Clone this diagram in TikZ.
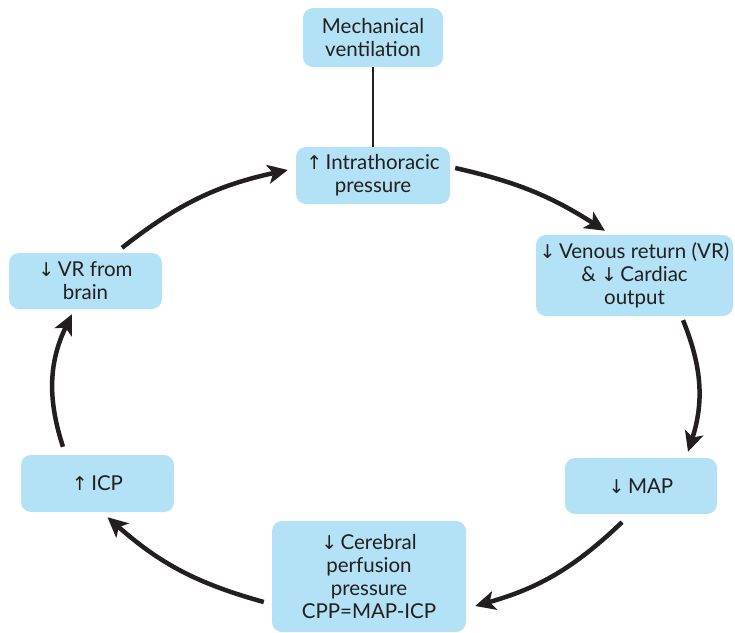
\documentclass[tikz,border=0pt]{standalone}
\usepackage{fontspec}
\setmainfont{Lato}
\newfontfamily\arrfont{DejaVu Sans}
\usetikzlibrary{arrows.meta}
\definecolor{boxblue}{HTML}{B3E1F5}
\definecolor{ink}{HTML}{231F20}
\newcommand{\up}{{\arrfont\fontsize{19}{19}\selectfont ↑}\,}
\newcommand{\dn}{{\arrfont\fontsize{19}{19}\selectfont ↓}\,}
\begin{document}
\begin{tikzpicture}[x=1pt,y=1pt,
  box/.style={fill=boxblue, rounded corners=10pt, inner sep=0pt, align=center,
    text=ink, font=\fontsize{20.5}{23}\selectfont},
  cyc/.style={line width=4.5pt, draw=ink, -{Stealth[length=20pt,width=19pt,inset=5pt]}},
  link/.style={line width=2.5pt, draw=ink}]
\useasboundingbox (0,0) rectangle (735,-632);
\node[box, minimum width=140pt, minimum height=59pt] (mech) at (373,-37.5) {Mechanical\\ventilation};
\node[box, minimum width=154pt, minimum height=57pt] (intra) at (373,-175.5) {\up Intrathoracic\\pressure};
\node[box, minimum width=197pt, minimum height=81pt] (ven) at (634.5,-275.5) {\dn Venous return (VR)\\\& \dn Cardiac\\output};
\node[box, minimum width=152pt, minimum height=56pt] (map) at (641,-486) {\dn MAP};
\node[box, minimum width=194pt, minimum height=111pt] (cpp) at (369,-576.5) {\dn Cerebral\\perfusion\\pressure\\CPP=MAP-ICP};
\node[box, minimum width=153pt, minimum height=57pt] (icp) at (97.5,-483.5) {\up ICP};
\node[box, minimum width=153pt, minimum height=56pt] (vrb) at (85.5,-281) {\dn VR from\\brain};

\draw[link] (mech.south) -- (intra.north);
\draw[cyc] ([xshift=5pt,yshift=7.5pt]intra.east) to[bend left=10] ([xshift=-29.5pt,yshift=4pt]ven.north);
\draw[cyc] ([xshift=48.5pt,yshift=-4pt]ven.south) to[bend left=20] ([xshift=47pt,yshift=6pt]map.north);
\draw[cyc] ([xshift=-19pt,yshift=-8pt]map.south) to[bend left=14] ([xshift=9pt,yshift=-29.5pt]cpp.east);
\draw[cyc] ([xshift=-8pt,yshift=-25.5pt]cpp.west) to[bend left=13] ([xshift=10pt,yshift=-5pt]icp.south);
\draw[cyc] ([xshift=-34.5pt,yshift=8pt]icp.north) to[bend left=22] ([xshift=-13.5pt,yshift=-5pt]vrb.south);
\draw[cyc] ([xshift=36.5pt,yshift=5pt]vrb.north) to[bend left=13] ([xshift=-8pt,yshift=5.5pt]intra.west);
\end{tikzpicture}
\end{document}
